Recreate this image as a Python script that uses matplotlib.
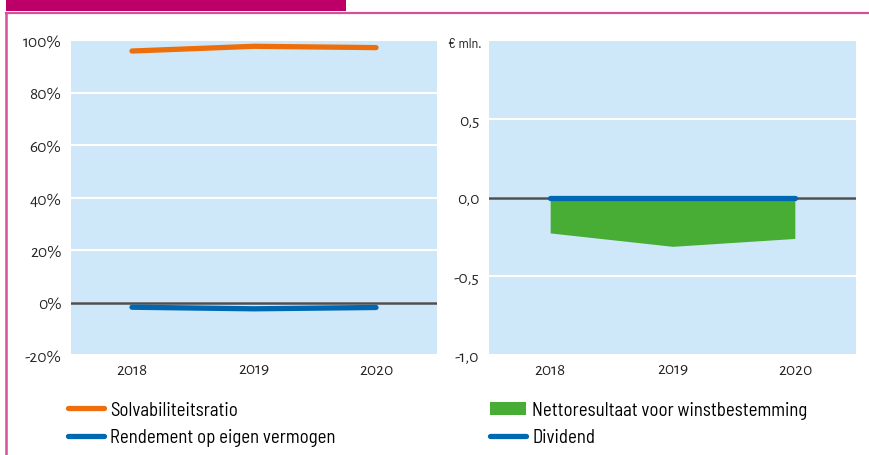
import matplotlib
matplotlib.use("Agg")
import matplotlib.pyplot as plt
from matplotlib.lines import Line2D
from matplotlib.patches import Patch, Rectangle
from matplotlib.ticker import FuncFormatter

years = ["2018", "2019", "2020"]
solvabiliteit = [95.8, 97.6, 97.1]          # %
rendement = [-1.8, -2.4, -1.9]              # %
nettoresultaat = [-0.225, -0.31, -0.26]     # € mln.
dividend = [0.0, 0.0, 0.0]                  # € mln.

left_ticks = [-20, 0, 20, 40, 60, 80, 100]
right_ticks = [-1.0, -0.5, 0.0, 0.5]

BG = "#cfe8f9"
ORANGE = "#ee6e0b"
BLUE = "#0068b3"
GREEN = "#47ad35"
ZERO = "#4d4f53"
MAGENTA = "#bd0067"
FRAME = "#d2529a"
TICK_FONT = ["Alegreya Sans", "Open Sans", "DejaVu Sans"]
LEG_FONT = ["Barlow Semi Condensed", "Asap Condensed", "DejaVu Sans"]

W, H = 870, 456
fig = plt.figure(figsize=(W / 100, H / 100), dpi=100)


def fx(px):
    return px / W


def fy(py):
    return 1 - py / H


# header bar and frame lines
fig.add_artist(Rectangle((fx(6), fy(12)), fx(340), 12 / H, transform=fig.transFigure,
                         facecolor=MAGENTA, edgecolor="none"))
fig.add_artist(Line2D([fx(6), 1], [fy(13.5), fy(13.5)], transform=fig.transFigure,
                      color=FRAME, lw=1.6))
fig.add_artist(Line2D([fx(6.5), fx(6.5)], [fy(13.5), 0], transform=fig.transFigure,
                      color=FRAME, lw=1.8))

ax1 = fig.add_axes([fx(71), fy(356), fx(437 - 71), (356 - 41) / H])
ax2 = fig.add_axes([fx(489), fy(356), fx(856 - 489), (356 - 41) / H])

x = list(range(len(years)))


def style_ticks(ax):
    for lab in ax.get_xticklabels() + ax.get_yticklabels():
        lab.set_fontfamily(TICK_FONT)


for ax in (ax1, ax2):
    ax.set_facecolor(BG)
    for s in ax.spines.values():
        s.set_visible(False)
    ax.set_xlim(-0.5, 2.5)
    ax.set_xticks(x)
    ax.set_xticklabels(years)
    ax.tick_params(length=0, labelsize=12.5, colors="#222222")
    ax.tick_params(axis="y", pad=7)
    ax.tick_params(axis="x", pad=5)
    ax.grid(axis="y", color="white", lw=1.5)
    ax.set_axisbelow(True)

# left: ratios in percent
ax1.set_ylim(-20, 100)
ax1.set_yticks(left_ticks)
ax1.yaxis.set_major_formatter(FuncFormatter(lambda v, p: f"{v:.0f}%"))
ax1.axhline(100, color="white", lw=1.5)
ax1.axhline(0, color=ZERO, lw=1.8, zorder=2)
ax1.plot(x, solvabiliteit, color=ORANGE, lw=3.8, solid_capstyle="round", zorder=3)
ax1.plot(x, rendement, color=BLUE, lw=3.8, solid_capstyle="round", zorder=3)

# right: amounts in € mln.
ax2.set_ylim(-1.0, 1.0)
ax2.set_yticks(right_ticks)
ax2.yaxis.set_major_formatter(FuncFormatter(lambda v, p: f"{v:.1f}".replace(".", ",")))
ax2.axhline(1.0, color="white", lw=1.5)
ax2.fill_between(x, 0, nettoresultaat, color=GREEN, lw=0, zorder=2)
ax2.axhline(0, color=ZERO, lw=1.8, zorder=3)
ax2.plot(x, dividend, color=BLUE, lw=3.8, solid_capstyle="round", zorder=4)

style_ticks(ax1)
style_ticks(ax2)

fig.text(fx(448), fy(44), "€ mln.", fontsize=10, family=LEG_FONT, color="#222222",
         va="center", ha="left",
         bbox=dict(facecolor="white", edgecolor="none", pad=3))

# legends
leg_kw = dict(frameon=False, handlelength=1.9, handletextpad=0.35, labelspacing=0.5,
              prop={"family": LEG_FONT, "size": 13.5}, borderaxespad=0, borderpad=0)
h1 = [Line2D([], [], color=ORANGE, lw=3.8, solid_capstyle="round"),
      Line2D([], [], color=BLUE, lw=3.8, solid_capstyle="round")]
fig.legend(h1, ["Solvabiliteitsratio", "Rendement op eigen vermogen"],
           loc="upper left", bbox_to_anchor=(fx(68), fy(402)), **leg_kw)
h2 = [Patch(facecolor=GREEN, edgecolor="none"),
      Line2D([], [], color=BLUE, lw=3.8, solid_capstyle="round")]
fig.legend(h2, ["Nettoresultaat voor winstbestemming", "Dividend"],
           loc="upper left", bbox_to_anchor=(fx(490), fy(402)), **leg_kw)

fig.savefig("out.png", dpi=100, facecolor="white")
